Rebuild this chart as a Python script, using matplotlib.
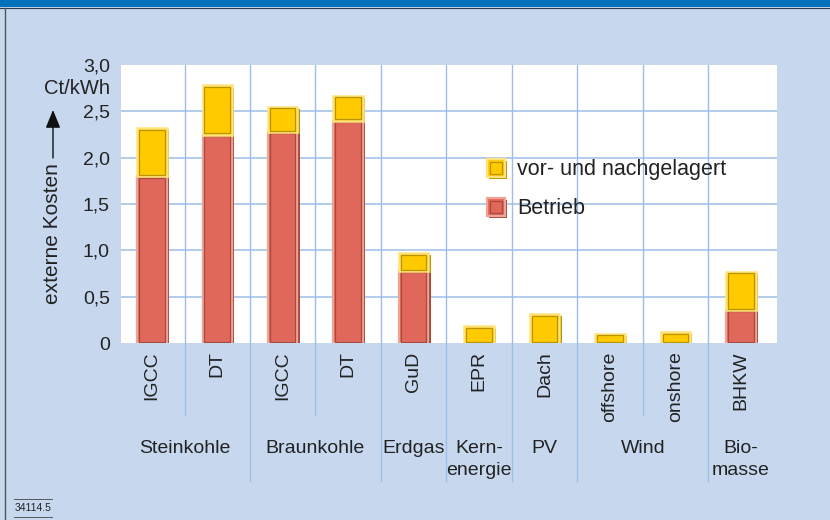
import numpy as np
import matplotlib
matplotlib.use("Agg")
from matplotlib import pyplot as plt
from matplotlib import transforms
from matplotlib.lines import Line2D
from matplotlib.patches import Rectangle, FancyArrowPatch

# Data (Ct/kWh)
techs = ['IGCC', 'DT', 'IGCC', 'DT', 'GuD', 'EPR', 'Dach', 'offshore', 'onshore', 'BHKW']
betrieb = [1.80, 2.25, 2.28, 2.40, 0.78, 0.0, 0.0, 0.0, 0.0, 0.36]
vor_nach = [0.52, 0.53, 0.27, 0.27, 0.19, 0.18, 0.31, 0.10, 0.12, 0.41]
groups_top = ['Steinkohle', 'Braunkohle', 'Erdgas', 'Kern-', 'PV', 'Wind', 'Bio-']
groups_bottom = ['', '', '', 'energie', '', '', 'masse']
group_pos = [0.5, 2.5, 4, 5, 6, 7.5, 9]
sub_dividers = [0.5, 2.5, 7.5]
group_dividers = [1.5, 3.5, 4.5, 5.5, 6.5, 8.5]
yticks = [0, 0.5, 1.0, 1.5, 2.0, 2.5, 3.0]
ytick_labels = ['0', '0,5', '1,0', '1,5', '2,0', '2,5', '3,0']

BG = '#c7d8ee'
GRID = '#9dbfe6'
TXT = '#222222'
FONT = 'Liberation Sans'
RED, RED_L, RED_D = '#e0685a', '#eea496', '#a9483d'
YEL, YEL_L, YEL_D = '#ffcb00', '#ffe27a', '#b89400'

W, H = 830, 520
fig = plt.figure(figsize=(8.3, 5.2), dpi=100, facecolor=BG)


def fx(x):
    return x / W


def fy(y):
    return 1 - y / H


ax = fig.add_axes([fx(121), fy(343), fx(777 - 121), (343 - 65) / H])
ax.set_facecolor('white')
ax.set_xlim(-0.47, 9.55)
ax.set_ylim(0, 3.0)
for s in ax.spines.values():
    s.set_visible(False)

# grid
for v in yticks[1:-1]:
    ax.axhline(v, color=GRID, lw=1.1, zorder=0)
blend = transforms.blended_transform_factory(ax.transData, ax.transAxes)
for d in sub_dividers:
    ax.add_line(Line2D([d, d], [1, -0.26], transform=blend, color=GRID, lw=1.0,
                       clip_on=False, zorder=0))
for d in group_dividers:
    ax.add_line(Line2D([d, d], [1, -0.495], transform=blend, color=GRID, lw=1.0,
                       clip_on=False, zorder=0))

# bars
x = np.arange(len(techs))
bw = 0.45
has_red = np.array(betrieb) > 0
red_h = np.array(betrieb)[has_red]
shadow = transforms.offset_copy(ax.transData, fig=fig, x=2.2, y=-2.2, units='dots')

ax.bar(x[has_red], red_h, bw, color=RED_D, transform=shadow, zorder=2)
ax.bar(x, vor_nach, bw, bottom=betrieb, color=YEL_D, transform=shadow, zorder=2)

ax.bar(x[has_red], red_h, bw, color=RED, edgecolor=RED_L, lw=1.6, zorder=3)
ax.bar(x[has_red], red_h - 0.025, bw - 0.06, bottom=0.01,
       facecolor='none', edgecolor=RED_D, lw=0.9, zorder=3)
ax.bar(x, vor_nach, bw, bottom=betrieb, color=YEL, edgecolor=YEL_L, lw=1.8, zorder=4)
ax.bar(x, np.array(vor_nach) - 0.03, bw - 0.06, bottom=np.array(betrieb) + 0.012,
       facecolor='none', edgecolor=YEL_D, lw=0.9, zorder=4)

# ticks
ax.set_xticks(x)
ax.set_xticklabels(techs, rotation=90, fontsize=14, color=TXT, family=FONT)
ax.set_yticks(yticks)
ax.set_yticklabels(ytick_labels, fontsize=14, color=TXT, family=FONT)
ax.tick_params(length=0, pad=8)
ax.tick_params(axis='x', pad=6)

# group labels
gtr = transforms.blended_transform_factory(ax.transData, fig.transFigure)
for gx, t1, t2 in zip(group_pos, groups_top, groups_bottom):
    fig.text(gx, fy(453), t1, transform=gtr, ha='center', va='baseline',
             fontsize=14, color=TXT, family=FONT)
    if t2:
        fig.text(gx, fy(475), t2, transform=gtr, ha='center', va='baseline',
                 fontsize=14, color=TXT, family=FONT)

# y axis label with arrow
fig.text(fx(110), fy(88), 'Ct/kWh', ha='right', va='center', fontsize=14.5,
         color=TXT, family=FONT)
fig.text(fx(52), fy(234), 'externe Kosten', rotation=90, ha='center', va='center',
         fontsize=15, color=TXT, family=FONT)
fig.add_artist(FancyArrowPatch(
    (fx(53), fy(158)), (fx(53), fy(110)), transform=fig.transFigure,
    arrowstyle='-|>,head_length=11,head_width=4.5', lw=1.0, color='#111111',
    shrinkA=0, shrinkB=0))

# legend
leg_items = [('vor- und nachgelagert', YEL, YEL_L, YEL_D, 169),
             ('Betrieb', RED, RED_L, RED_D, 208)]
for label, fc, lc, dc, yc in leg_items:
    fig.add_artist(Rectangle((fx(489), fy(yc + 10)), 18 / W, 18 / H,
                             transform=fig.transFigure, facecolor=dc, lw=0))
    fig.add_artist(Rectangle((fx(487), fy(yc + 8)), 18 / W, 18 / H,
                             transform=fig.transFigure, facecolor=fc,
                             edgecolor=lc, lw=1.6))
    fig.add_artist(Rectangle((fx(490), fy(yc + 5)), 12 / W, 12 / H,
                             transform=fig.transFigure, facecolor='none',
                             edgecolor=dc, lw=0.9))
    fig.text(fx(517), fy(yc), label, ha='left', va='center', fontsize=15.5,
             color=TXT, family=FONT)

# header strip and frame
fig.add_artist(Rectangle((0, fy(7)), 1, 7 / H, transform=fig.transFigure,
                         facecolor='#0072bc', lw=0))
fig.add_artist(Line2D([0, 1], [fy(7.5), fy(7.5)], transform=fig.transFigure,
                      color='#2a3a50', lw=0.8))
fig.add_artist(Line2D([fx(5), fx(5)], [0, fy(7.5)], transform=fig.transFigure,
                      color='#555555', lw=1.0))

# footer
fig.text(fx(15), fy(508), '34114.5', ha='left', va='center', fontsize=7.5,
         color=TXT, family=FONT)
for yy in (499, 517):
    fig.add_artist(Line2D([fx(14), fx(52)], [fy(yy), fy(yy)],
                          transform=fig.transFigure, color='#444444', lw=0.6))

fig.savefig('out.png', dpi=100, facecolor=BG)
